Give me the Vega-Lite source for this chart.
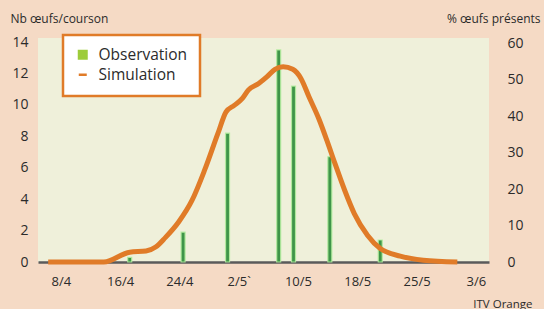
{
  "$schema": "https://vega.github.io/schema/vega-lite/v6.json",
  "autosize": {"type": "none"},
  "width": 451,
  "height": 224,
  "padding": {"left": 38, "top": 38, "right": 55, "bottom": 47},
  "background": "#f5dac5",
  "config": {
    "font": "Open Sans",
    "view": {"fill": "#eff0da", "stroke": null},
    "axis": {"labelColor": "#2b2b2b", "titleColor": "#2b2b2b", "grid": false, "ticks": false, "tickSize": 0, "titleFontWeight": "normal", "titleFont": "Open Sans", "labelFont": "Open Sans"}
  },
  "datasets": {
    "obs": [
      {"jour": 9.3, "n": 0.3},
      {"jour": 16.5, "n": 1.9},
      {"jour": 22.5, "n": 8.2},
      {"jour": 29.4, "n": 13.5},
      {"jour": 31.4, "n": 11.2},
      {"jour": 36.3, "n": 6.7},
      {"jour": 43.1, "n": 1.4}
    ],
    "sim": [
      {"jour": -1.7, "pct": 0, "serie": "Simulation"},
      {"jour": 5.8, "pct": 0, "serie": "Simulation"},
      {"jour": 9.3, "pct": 2.7, "serie": "Simulation"},
      {"jour": 11.5, "pct": 3.0, "serie": "Simulation"},
      {"jour": 12.8, "pct": 4.1, "serie": "Simulation"},
      {"jour": 14.1, "pct": 6.7, "serie": "Simulation"},
      {"jour": 15.9, "pct": 11.0, "serie": "Simulation"},
      {"jour": 17.7, "pct": 16.9, "serie": "Simulation"},
      {"jour": 19.4, "pct": 25.2, "serie": "Simulation"},
      {"jour": 21.2, "pct": 35.3, "serie": "Simulation"},
      {"jour": 22.3, "pct": 41.2, "serie": "Simulation"},
      {"jour": 23.4, "pct": 43.0, "serie": "Simulation"},
      {"jour": 24.5, "pct": 44.9, "serie": "Simulation"},
      {"jour": 25.3, "pct": 47.2, "serie": "Simulation"},
      {"jour": 26.7, "pct": 49.0, "serie": "Simulation"},
      {"jour": 27.8, "pct": 50.8, "serie": "Simulation"},
      {"jour": 28.9, "pct": 52.9, "serie": "Simulation"},
      {"jour": 30.0, "pct": 53.6, "serie": "Simulation"},
      {"jour": 31.3, "pct": 52.9, "serie": "Simulation"},
      {"jour": 32.4, "pct": 50.4, "serie": "Simulation"},
      {"jour": 33.5, "pct": 45.3, "serie": "Simulation"},
      {"jour": 34.8, "pct": 39.4, "serie": "Simulation"},
      {"jour": 35.9, "pct": 33.4, "serie": "Simulation"},
      {"jour": 37.0, "pct": 27.0, "serie": "Simulation"},
      {"jour": 38.3, "pct": 19.7, "serie": "Simulation"},
      {"jour": 39.6, "pct": 13.3, "serie": "Simulation"},
      {"jour": 41.4, "pct": 7.3, "serie": "Simulation"},
      {"jour": 43.1, "pct": 3.7, "serie": "Simulation"},
      {"jour": 45.8, "pct": 1.6, "serie": "Simulation"},
      {"jour": 48.9, "pct": 0.5, "serie": "Simulation"},
      {"jour": 53.5, "pct": 0, "serie": "Simulation"}
    ]
  },
  "layer": [
    {
      "data": {"name": "obs"},
      "mark": {"type": "bar", "width": 4, "fill": "#3f9549", "stroke": "#b4ec9f", "strokeWidth": 1.2, "strokeOpacity": 0.9},
      "encoding": {
        "x": {
          "field": "jour", "type": "quantitative",
          "scale": {"domain": [-2.4, 57.1], "nice": false, "zero": false},
          "axis": {
            "values": [0, 8, 16, 24, 32, 40, 48, 56],
            "labelExpr": "['8/4','16/4','24/4','2/5`','10/5','18/5','25/5','3/6'][round(datum.value/8)]",
            "labelFontSize": 13,
            "labelPadding": 13,
            "domainColor": "#5a5a5a",
            "domainWidth": 2.5,
            "title": "ITV Orange",
            "titleFontSize": 11.5,
            "titleAngle": 0,
            "titleAlign": "right",
            "titleBaseline": "alphabetic",
            "titleX": 494,
            "titleY": 45
          }
        },
        "y": {
          "field": "n", "type": "quantitative",
          "scale": {"domain": [0, 14.26], "nice": false},
          "axis": {
            "values": [0, 2, 4, 6, 8, 10, 12, 14],
            "domain": false,
            "labelFontSize": 14,
            "labelPadding": 10,
            "title": "Nb œufs/courson",
            "titleFontSize": 12,
            "titleAngle": 0,
            "titleAlign": "left",
            "titleBaseline": "middle",
            "titleX": -28,
            "titleY": -20
          }
        }
      }
    },
    {
      "data": {"name": "sim"},
      "mark": {"type": "line", "strokeWidth": 5, "interpolate": "monotone", "strokeCap": "butt", "strokeJoin": "round"},
      "encoding": {
        "x": {"field": "jour", "type": "quantitative"},
        "y": {
          "field": "pct", "type": "quantitative",
          "scale": {"domain": [0, 61.5], "nice": false},
          "axis": {
            "orient": "right",
            "values": [0, 10, 20, 30, 40, 50, 60],
            "domain": false,
            "labelFontSize": 14,
            "labelPadding": 18,
            "title": "% œufs présents",
            "titleFontSize": 12,
            "titleAngle": 0,
            "titleAlign": "right",
            "titleBaseline": "middle",
            "titleX": 51,
            "titleY": -20
          }
        },
        "color": {
          "field": "serie", "type": "nominal",
          "scale": {"domain": ["Observation", "Simulation"], "range": ["#9dcc3a", "#e07b28"]},
          "legend": {
            "title": null,
            "orient": "none",
            "legendX": 25,
            "legendY": -3,
            "direction": "vertical",
            "fillColor": "#ffffff",
            "strokeColor": "#e07b28",
            "padding": 12,
            "labelFontSize": 15.5,
            "labelFont": "Open Sans",
            "labelColor": "#2b2b2b",
            "labelOffset": 8,
            "rowPadding": 3,
            "symbolSize": 100,
            "symbolType": "square",
            "encode": {
              "legend": {"update": {"strokeWidth": {"value": 2.5}}},
              "symbols": {
                "update": {
                  "shape": {"signal": "datum.value === 'Simulation' ? 'M-0.8,-0.25H0.8V0.25H-0.8Z' : 'square'"},
                  "fill": {"signal": "datum.value === 'Simulation' ? '#e07b28' : '#9dcc3a'"},
                  "stroke": {"value": "transparent"},
                  "strokeWidth": {"value": 0}
                }
              }
            }
          }
        }
      }
    }
  ],
  "resolve": {"scale": {"y": "independent"}}
}
